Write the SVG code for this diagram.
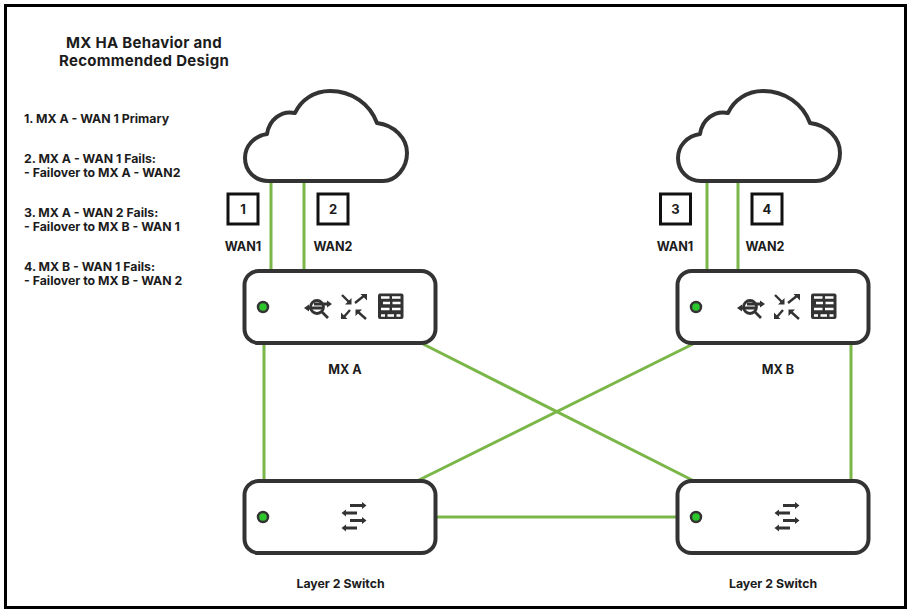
<svg xmlns="http://www.w3.org/2000/svg" width="911" height="614" viewBox="0 0 911 614">
<style>
text{font-family:"Inter","Liberation Sans",sans-serif;font-weight:700;fill:#1c1c1c}
.t{font-size:15px;letter-spacing:0.300px}
.s{font-size:12.300px}
.l{font-size:12.600px}
.c{text-anchor:middle}
.n{font-size:13px;text-anchor:middle}
.box{fill:#fff;stroke:#111;stroke-width:3}
.dev{fill:#fff;stroke:#333;stroke-width:4}
.cloud{fill:#fff;stroke:#333;stroke-width:4;stroke-linejoin:round}
.led{fill:#2cc52c;stroke:#333;stroke-width:2.500}
.ln{stroke:#7ab648;stroke-width:3;fill:none}
.ic{stroke:#333;stroke-width:2.400;fill:none}
.ic2{stroke:#333;stroke-width:2.800;fill:none}
.ar{fill:#333}
</style>
<defs>
<path id="cloudshape" class="cloud" d="M268 181H383C396 181 407 168 407 153C407 138 394 125 377 123C370 104 352 91 330 91C314 91 301 100 295 113C281 110 269 120 267 134C254 136 245 146 245 158C245 171 255 181 268 181Z"/>
<g id="mxicons">
<circle class="ic2" cx="317" cy="307" r="6.500"/>
<path class="ic2" d="M308 308H324M322 312L328 318M314 304H329"/>
<path class="ar" d="M304 308L309 304.500V311.500ZM332 304L327 300.500V307.500Z"/>
<path class="ic" d="M342 295L350 303M355 303L365 295M350 310L343 318M357 311L366 319"/>
<path class="ar" d="M351.500 304.500V298L345 304.500ZM367 294H360.500L367 300.500ZM341 319H347.500L341 312.500ZM355.500 309.500H362L355.500 316Z"/>
<rect x="378" y="293.500" width="25.500" height="25.500" rx="2" fill="#333"/>
<path d="M381 297.500H389.500M392 297.500H400.500M383 303H390M392.500 303H400.500M381 309H389.500M392 309H400.500M381 315.500H385M387.500 315.500H394M396.500 315.500H400.500" stroke="#fff" stroke-width="2.300" fill="none"/>
</g>
<g id="swicons">
<path class="ic2" d="M350 505.500H363M345 513H357M350 520.500H363M345 528H357"/>
<path class="ar" d="M366.500 505.500L362 502V509ZM341.500 513L346 509.500V516.500ZM366.500 520.500L362 517V524ZM341.500 528L346 524.500V531.500Z"/>
</g>
</defs>
<rect x="5.500" y="5.500" width="900" height="602" fill="#fff" stroke="#000" stroke-width="3"/>

<g id="connectors">
<path class="ln" d="M271 180V271M304 180V271M707 180V271M738 180V271"/>
<path class="ln" d="M264 343V482M851 343V482M423 344L694 481M693 344L417 481M436 517H678"/>
</g>

<g id="title"><text class="t c" x="144" y="48">MX HA Behavior and</text><text class="t c" x="144" y="65.500">Recommended Design</text></g>
<g id="legend">
<text class="s" x="24" y="122.500">1. MX A - WAN 1 Primary</text>
<text class="s" x="24" y="163">2. MX A - WAN 1 Fails:</text>
<text class="s" x="24" y="177">- Failover to MX A - WAN2</text>
<text class="s" x="24" y="217">3. MX A - WAN 2 Fails:</text>
<text class="s" x="24" y="231">- Failover to MX B - WAN 1</text>
<text class="s" x="24" y="271">4. MX B - WAN 1 Fails:</text>
<text class="s" x="24" y="285">- Failover to MX B - WAN 2</text>
</g>

<g id="cloud-a"><use href="#cloudshape"/></g>
<g id="cloud-b"><use href="#cloudshape" x="433"/></g>

<g id="badge-1"><rect class="box" x="228" y="194" width="30" height="30"/><text class="n" x="243" y="214">1</text></g>
<g id="badge-2"><rect class="box" x="318" y="194" width="30" height="30"/><text class="n" x="333" y="214">2</text></g>
<g id="badge-3"><rect class="box" x="660.500" y="194" width="30" height="30"/><text class="n" x="675.500" y="214">3</text></g>
<g id="badge-4"><rect class="box" x="752" y="194" width="30" height="30"/><text class="n" x="767" y="214">4</text></g>

<g id="wan-labels">
<text class="l c" x="243" y="250.500">WAN1</text><text class="l c" x="333" y="250.500">WAN2</text>
<text class="l c" x="675" y="250.500">WAN1</text><text class="l c" x="765" y="250.500">WAN2</text>
</g>

<g id="mx-a"><rect class="dev" x="244.500" y="271" width="191" height="72" rx="14"/><circle class="led" cx="263" cy="307" r="5"/><use href="#mxicons"/><text class="l c" x="345" y="373.500">MX A</text></g>
<g id="mx-b"><rect class="dev" x="677.500" y="271" width="191" height="72" rx="14"/><circle class="led" cx="696" cy="307" r="5"/><use href="#mxicons" x="433"/><text class="l c" x="778" y="373.500">MX B</text></g>
<g id="switch-a"><rect class="dev" x="244.500" y="481" width="191" height="72" rx="14"/><circle class="led" cx="263" cy="517" r="5"/><use href="#swicons"/><text class="s c" x="340.500" y="587.500">Layer 2 Switch</text></g>
<g id="switch-b"><rect class="dev" x="677.500" y="481" width="191" height="72" rx="14"/><circle class="led" cx="696" cy="517" r="5"/><use href="#swicons" x="433"/><text class="s c" x="773" y="587.500">Layer 2 Switch</text></g>
</svg>
